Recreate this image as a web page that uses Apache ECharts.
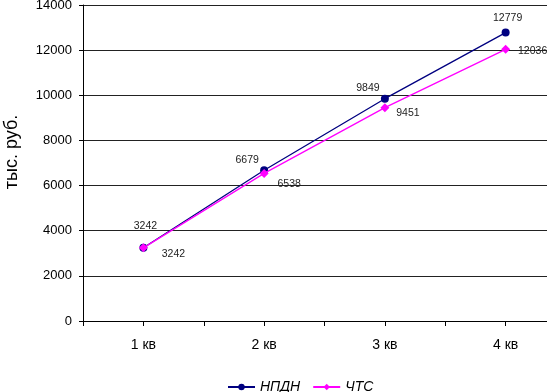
<!DOCTYPE html>
<html><head><meta charset="utf-8">
<script src="https://cdn.jsdelivr.net/npm/echarts@6/dist/echarts.min.js"></script>
<style>html,body{margin:0;padding:0;background:#fff;overflow:hidden;width:547px;height:392px}#c{width:580px;height:392px}</style>
</head><body><div id="c"></div>
<script>
const categories = ['1 кв', '2 кв', '3 кв', '4 кв'];
const npdn = [3242, 6679, 9849, 12779];
const chts = [3242, 6538, 9451, 12036];
const seriesNames = ['НПДН', 'ЧТС'];
const yTitle = 'тыс. руб.';
// per-point label offsets (styling only)
const npdnLabelOffsets = [[2, -7], [-17, 4], [-17, 4], [2, 0]];
const chtsLabelOffsets = [[30, 21], [25, 26], [23, 20], [27, 17]];

const chart = echarts.init(document.getElementById('c'));
const font = 'Arial, "Liberation Sans", sans-serif';
function mk(vals, offs) {
  return vals.map((v, i) => ({ value: v, label: { offset: offs[i] } }));
}
chart.setOption({
  animation: false,
  backgroundColor: '#fff',
  textStyle: { fontFamily: font },
  grid: { left: 83, top: 5, width: 483, height: 316, containLabel: false, outerBoundsMode: 'none' },
  legend: {
    top: 375, left: 222, itemWidth: 27, itemHeight: 8, itemGap: 12,
    textStyle: { fontFamily: font, fontSize: 14, fontStyle: 'italic', color: '#000' },
    data: seriesNames
  },
  xAxis: [{
    type: 'category', data: categories, boundaryGap: true,
    axisLine: { lineStyle: { color: '#000' } },
    axisTick: { show: true, length: 5, lineStyle: { color: '#000' } },
    axisLabel: { color: '#000', fontSize: 14, margin: 17, fontFamily: font }
  }, {
    type: 'category', data: categories, boundaryGap: true, position: 'bottom',
    axisLine: { show: false },
    axisTick: { show: true, alignWithLabel: true, length: 5, lineStyle: { color: '#000' } },
    axisLabel: { show: false }
  }],
  yAxis: {
    type: 'value', min: 0, max: 14000, interval: 2000,
    name: yTitle, nameLocation: 'middle', nameGap: 62,
    nameTextStyle: { fontSize: 18, color: '#000', fontFamily: font, padding: [0, 0, 0, 22] },
    axisLine: { show: true, lineStyle: { color: '#000' } },
    axisTick: { show: true, length: 4, lineStyle: { color: '#000' } },
    axisLabel: { color: '#000', fontSize: 13, margin: 11, fontFamily: font, formatter: v => String(v) },
    splitLine: { lineStyle: { color: '#222', width: 1 } }
  },
  series: [{
    name: seriesNames[0], type: 'line', data: mk(npdn, npdnLabelOffsets),
    symbol: 'circle', symbolSize: 8,
    itemStyle: { color: '#000080' }, lineStyle: { color: '#000080', width: 1.3 },
    label: { show: true, position: 'top', color: '#222', fontSize: 10.5, fontFamily: font, formatter: p => String(p.value) },
    z: 3
  }, {
    name: seriesNames[1], type: 'line', data: mk(chts, chtsLabelOffsets),
    symbol: 'diamond', symbolSize: 9,
    itemStyle: { color: '#FF00FF' }, lineStyle: { color: '#FF00FF', width: 1.3 },
    label: { show: true, position: 'top', color: '#222', fontSize: 10.5, fontFamily: font, formatter: p => String(p.value) },
    z: 4
  }]
});
</script></body></html>
